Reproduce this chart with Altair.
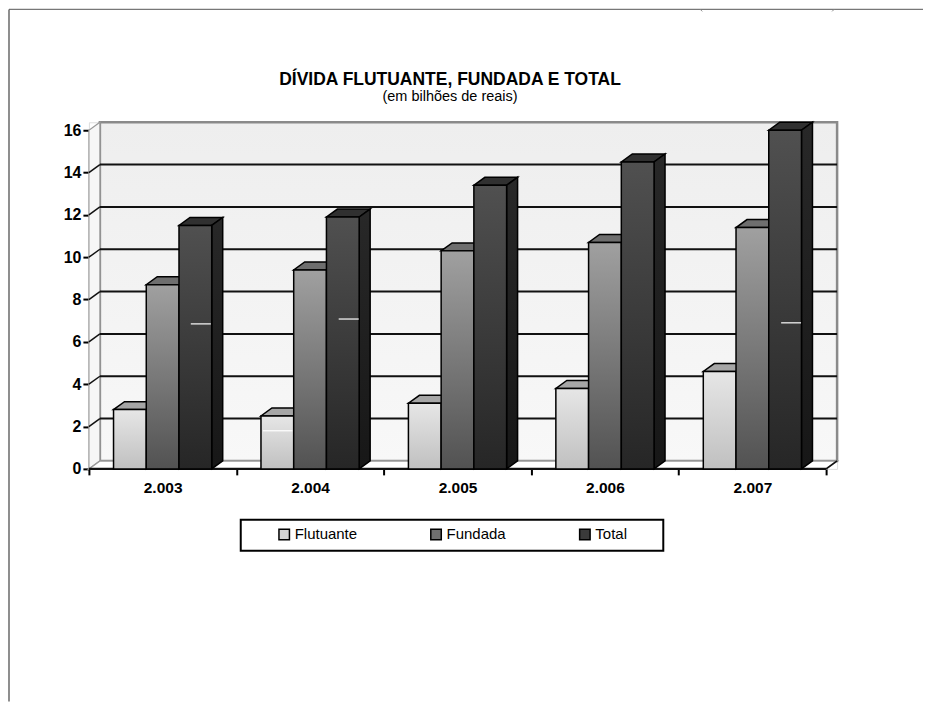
import altair as alt
import pandas as pd

anos = ["2.003", "2.004", "2.005", "2.006", "2.007"]
series = ["Flutuante", "Fundada", "Total"]
flutuante = [2.8, 2.5, 3.1, 3.8, 4.6]
fundada = [8.7, 9.4, 10.3, 10.7, 11.4]
total = [11.5, 11.9, 13.4, 14.5, 16.0]
valores = [flutuante, fundada, total]

front_colors = [("#e6e6e6", "#c0c0c0"), ("#a0a0a0", "#525252"), ("#505050", "#262626")]
top_colors = ["#a6a6a6", "#6e6e6e", "#303030"]
side_colors = [("#8c8c8c", "#606060"), ("#404040", "#252525"), ("#282828", "#171717")]
legend_colors = ["#d2d2d2", "#6f6f6f", "#3a3a3a"]

y_ticks = list(range(0, 17, 2))
depth_x = 0.0745
depth_y = 0.377
bar_w = 0.222
bar_start = 0.167
dash_x = [0.691, 1.18, 1.694, 4.695]
dash_x2 = [0.827, 1.38, 1.83, 4.83]
dash_y = [6.85, 1.8, 7.08, 6.9]

X_DOM = [0, 5 + depth_x]
Y_DOM = [0, 16 + depth_y]
xs = alt.Scale(domain=X_DOM, nice=False, zero=False)
ys = alt.Scale(domain=Y_DOM, nice=False, zero=False)


def grad(c0, c1):
    return alt.Gradient(
        gradient="linear", x1=0, y1=0, x2=0, y2=1,
        stops=[alt.GradientStop(color=c0, offset=0), alt.GradientStop(color=c1, offset=1)],
    )


labels_js = "[" + ",".join(f"'{a}'" for a in anos) + "]"
x_axis = alt.Axis(
    title=None, values=[i / 2 for i in range(11)],
    labelExpr=f"datum.value % 1 == 0.5 ? {labels_js}[floor(datum.value)] : ''",
    tickOpacity={"condition": {"test": "datum.value % 1 == 0", "value": 1}, "value": 0},
    domain=False, grid=False, tickColor="black", tickWidth=2, tickSize=6,
    labelFont="Liberation Sans", labelFontWeight="bold", labelFontSize=15.5,
    labelColor="black", labelPadding=6, labelOverlap=False, labelFlush=False,
)
y_axis = alt.Axis(
    title=None, values=y_ticks, format="d",
    domain=False, grid=False, tickColor="black", tickWidth=2, tickSize=6,
    labelFont="Liberation Sans", labelFontWeight="bold", labelFontSize=16,
    labelColor="black", labelPadding=2, labelOverlap=False, labelFlush=False,
)

xq = lambda f="x": alt.X(f"{f}:Q", scale=xs, axis=x_axis)
yq = lambda f="y": alt.Y(f"{f}:Q", scale=ys, axis=y_axis)

layers = []

# legend box
layers.append(
    alt.Chart(pd.DataFrame({"a": [0]}))
    .mark_rect(fill="white", stroke="black", strokeWidth=2)
    .encode(x=alt.value(152), x2=alt.value(575), y=alt.value(398), y2=alt.value(429))
)

# walls and floor
back = pd.DataFrame({"x": [depth_x], "x2": [X_DOM[1]], "y": [depth_y], "y2": [Y_DOM[1]]})
layers.append(
    alt.Chart(back).mark_rect(fill=grad("#eeeeee", "#f8f8f8"), stroke="#8a8a8a", strokeWidth=2.5)
    .encode(x=xq(), x2="x2:Q", y=yq(), y2="y2:Q")
)
left_wall = pd.DataFrame({"x": [0, depth_x], "y": [0, depth_y], "y2": [16, Y_DOM[1]]})
layers.append(
    alt.Chart(left_wall).mark_area(fill="#f6f6f6", stroke="#9a9a9a", strokeWidth=1.2)
    .encode(x=xq(), y=yq(), y2="y2:Q")
)
floor = pd.DataFrame({"x": [0, depth_x, 5, X_DOM[1]], "y": [0, 0, 0, depth_y],
                      "y2": [0, depth_y, depth_y, depth_y]})
layers.append(
    alt.Chart(floor).mark_area(fill="white", stroke="#9a9a9a", strokeWidth=1.5)
    .encode(x=xq(), y=yq(), y2="y2:Q")
)

# gridlines
grid = pd.DataFrame({"x": depth_x, "x2": X_DOM[1], "y": [v + depth_y for v in y_ticks[1:-1]]})
layers.append(
    alt.Chart(grid).mark_rule(color="#111111", strokeWidth=2)
    .encode(x=xq(), x2="x2:Q", y=yq())
)
diag = pd.DataFrame({"x": 0, "x2": depth_x, "y": y_ticks[1:-1],
                     "y2": [v + depth_y for v in y_ticks[1:-1]]})
layers.append(
    alt.Chart(diag).mark_rule(color="#111111", strokeWidth=1.5)
    .encode(x=xq(), x2="x2:Q", y=yq(), y2="y2:Q")
)
layers.append(
    alt.Chart(pd.DataFrame({"x": [5], "x2": [X_DOM[1]], "y": [0], "y2": [depth_y]}))
    .mark_rule(color="#111111", strokeWidth=1.5)
    .encode(x=xq(), x2="x2:Q", y=yq(), y2="y2:Q")
)
layers.append(
    alt.Chart(pd.DataFrame({"x": [0], "x2": [5], "y": [0]}))
    .mark_rule(color="#111111", strokeWidth=2.5)
    .encode(x=xq(), x2="x2:Q", y=yq())
)

# bars
color_scale = alt.Scale(domain=series, range=legend_colors)
legend = alt.Legend(
    title=None, orient="none", legendX=182, legendY=399, direction="horizontal",
    columns=3, columnPadding=70, padding=6,
    symbolType="square", symbolSize=110, symbolStrokeColor="black", symbolStrokeWidth=1.5,
    labelFont="Liberation Sans", labelFontSize=15, labelColor="black", labelOffset=3,
)
for s, name in enumerate(series):
    rows_top, rows_side, rows_front = [], [], []
    for g, v in enumerate(valores[s]):
        L = g + bar_start + s * bar_w
        R = L + bar_w
        rows_front.append({"x": L, "x2": R, "y": 0, "y2": v, "serie": name})
        rows_top += [
            {"g": g, "x": L, "y": v, "y2": v},
            {"g": g, "x": L + depth_x, "y": v, "y2": v + depth_y},
            {"g": g, "x": R, "y": v, "y2": v + depth_y},
            {"g": g, "x": R + depth_x, "y": v + depth_y, "y2": v + depth_y},
        ]
        rows_side += [
            {"g": g, "x": R, "y": 0, "y2": v},
            {"g": g, "x": R + depth_x, "y": depth_y, "y2": v + depth_y},
        ]
    layers.append(
        alt.Chart(pd.DataFrame(rows_top))
        .mark_area(fill=top_colors[s], stroke="black", strokeWidth=1.5)
        .encode(x=xq(), y=yq(), y2="y2:Q", detail="g:N")
    )
    layers.append(
        alt.Chart(pd.DataFrame(rows_side))
        .mark_area(fill=grad(*side_colors[s]), stroke="black", strokeWidth=1.5)
        .encode(x=xq(), y=yq(), y2="y2:Q", detail="g:N")
    )
    front = pd.DataFrame(rows_front)
    layers.append(
        alt.Chart(front).mark_bar()
        .encode(x=xq(), x2="x2:Q", y=yq(), y2="y2:Q",
                color=alt.Color("serie:N", scale=color_scale, legend=legend))
    )
    layers.append(
        alt.Chart(front)
        .mark_bar(fill=grad(*front_colors[s]), stroke="black", strokeWidth=1.5)
        .encode(x=xq(), x2="x2:Q", y=yq(), y2="y2:Q")
    )

# white dashes left in the original scan
layers.append(
    alt.Chart(pd.DataFrame({"x": dash_x, "x2": dash_x2, "y": dash_y}))
    .mark_rule(color="white", strokeWidth=1.2)
    .encode(x=xq(), x2="x2:Q", y=yq())
)

# page frame
layers.append(alt.Chart(pd.DataFrame({"a": [0]})).mark_rule(color="#777777", strokeWidth=1.2)
              .encode(x=alt.value(-80), x2=alt.value(835), y=alt.value(-113)))
layers.append(alt.Chart(pd.DataFrame({"a": [0]})).mark_rule(color="#444444", strokeWidth=1.2)
              .encode(x=alt.value(-80), y=alt.value(-113), y2=alt.value(580)))
# clipped remains at the top edge of the scan
layers.append(alt.Chart(pd.DataFrame({"a": [0]})).mark_rule(color="#888888", strokeWidth=1)
              .encode(x=alt.value(612), x2=alt.value(614), y=alt.value(-113), y2=alt.value(-111)))
layers.append(alt.Chart(pd.DataFrame({"a": [0]})).mark_rule(color="#888888", strokeWidth=1)
              .encode(x=alt.value(746), x2=alt.value(744), y=alt.value(-113), y2=alt.value(-111)))

chart = (
    alt.layer(*layers)
    .properties(
        width=749, height=347, padding=0,
        title=alt.TitleParams(
            text="DÍVIDA FLUTUANTE, FUNDADA E TOTAL",
            subtitle="(em bilhões de reais)",
            anchor="middle", dx=-13, offset=-95,
            font="Liberation Sans", fontWeight="bold", fontSize=17.5, color="black",
            subtitleFont="Liberation Sans", subtitleFontSize=14.5, subtitleColor="black",
            subtitlePadding=2,
        ),
    )
    .configure_view(stroke=None)
    .configure(background="white")
)
chart.save("out.html", embed_options={"renderer": "svg", "actions": False})
